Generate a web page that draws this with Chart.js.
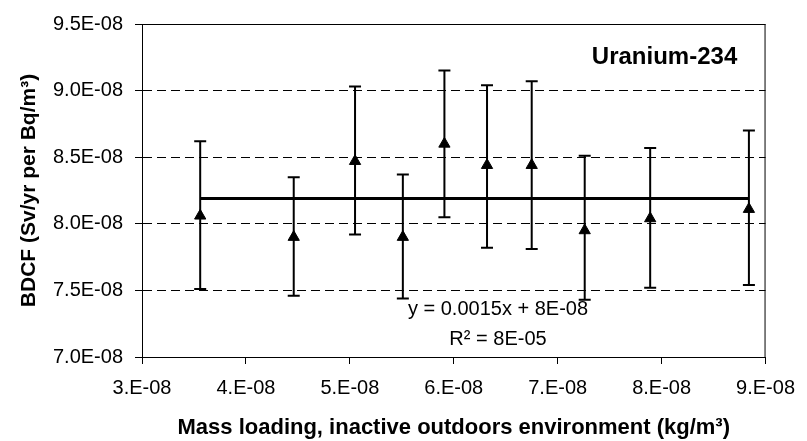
<!DOCTYPE html>
<html>
<head>
<meta charset="utf-8">
<script src="https://cdn.jsdelivr.net/npm/chart.js@4/dist/chart.umd.min.js"></script>
<style>
  html, body { margin: 0; padding: 0; background: #fff; }
  #wrap { width: 807px; height: 441px; }
</style>
</head>
<body>
<div id="wrap"><canvas id="bdcfChart" width="807" height="441"></canvas></div>
<script>
// Mass loading (kg/m3) and BDCF values
const massLoading = [3.56e-8, 4.46e-8, 5.05e-8, 5.51e-8, 5.91e-8, 6.32e-8, 6.75e-8, 7.26e-8, 7.89e-8, 8.84e-8];
const bdcf        = [8.06e-8, 7.90e-8, 8.47e-8, 7.90e-8, 8.60e-8, 8.44e-8, 8.44e-8, 7.95e-8, 8.04e-8, 8.11e-8];
const errHigh     = [8.62e-8, 8.35e-8, 9.03e-8, 8.37e-8, 9.15e-8, 9.04e-8, 9.07e-8, 8.51e-8, 8.57e-8, 8.70e-8];
const errLow      = [7.51e-8, 7.46e-8, 7.92e-8, 7.44e-8, 8.05e-8, 7.82e-8, 7.81e-8, 7.43e-8, 7.52e-8, 7.54e-8];

// linear trend line end points
const trendX = [3.56e-8, 8.84e-8];
const trendY = [8.19e-8, 8.19e-8];

const nuclide = 'Uranium-234';
const trendLabel = ['y = 0.0015x + 8E-08', 'R\u00b2 = 8E-05'];

const FONT = '"Liberation Sans", Arial, sans-serif';

function expLabel(v, digits) {
  const parts = v.toExponential(digits).split('e');
  const e = parseInt(parts[1], 10);
  let m = parts[0];
  if (digits === 0) m += '.';
  return m + 'E' + (e < 0 ? '-' : '+') + String(Math.abs(e)).padStart(2, '0');
}

// error bars drawn through the chart scales
const errorBars = {
  id: 'errorBars',
  beforeDatasetsDraw(chart) {
    const { ctx, scales: { x, y } } = chart;
    ctx.save();
    ctx.strokeStyle = '#000';
    ctx.lineWidth = 2;
    massLoading.forEach((m, i) => {
      const px = x.getPixelForValue(m);
      const top = y.getPixelForValue(errHigh[i]);
      const bot = y.getPixelForValue(errLow[i]);
      ctx.beginPath();
      ctx.moveTo(px, top); ctx.lineTo(px, bot);
      ctx.moveTo(px - 6, top); ctx.lineTo(px + 6, top);
      ctx.moveTo(px - 6, bot); ctx.lineTo(px + 6, bot);
      ctx.stroke();
    });
    ctx.restore();
  }
};

// plot frame plus the in-plot texts
const frameAndText = {
  id: 'frameAndText',
  afterDraw(chart) {
    const { ctx, chartArea: a } = chart;
    ctx.save();
    ctx.strokeStyle = '#000';
    ctx.lineWidth = 1;
    ctx.strokeRect(a.left + 0.5, a.top + 0.5, a.right - a.left - 1, a.bottom - a.top);
    ctx.fillStyle = '#000';
    ctx.textAlign = 'center';
    ctx.textBaseline = 'middle';
    ctx.font = 'bold 24px ' + FONT;
    ctx.fillText(nuclide, a.right - 101, a.top + 33);
    ctx.font = '20px ' + FONT;
    ctx.fillText(trendLabel[0], a.left + 356, a.top + 285);
    ctx.fillText(trendLabel[1], a.left + 356, a.top + 315);
    ctx.restore();
  }
};

new Chart(document.getElementById('bdcfChart'), {
  type: 'scatter',
  data: {
    datasets: [{
      label: 'BDCF',
      data: massLoading.map((m, i) => ({ x: m, y: bdcf[i] })),
      pointStyle: 'triangle',
      pointRadius: 6.5,
      backgroundColor: '#000',
      borderColor: '#000',
      borderWidth: 1
    }, {
      label: 'Trend',
      type: 'line',
      data: trendX.map((t, i) => ({ x: t, y: trendY[i] })),
      borderColor: '#000',
      borderWidth: 3,
      pointRadius: 0,
      fill: false
    }]
  },
  options: {
    responsive: false,
    animation: false,
    devicePixelRatio: 1,
    layout: { padding: { top: 22, right: 34, left: 0, bottom: 0 } },
    plugins: { legend: { display: false }, tooltip: { enabled: false } },
    scales: {
      x: {
        type: 'linear',
        min: 3e-8, max: 9e-8,
        afterFit: s => { s.height = 84; },
        ticks: {
          stepSize: 1e-8, autoSkip: false, maxRotation: 0,
          color: '#000', font: { family: FONT, size: 20 }, padding: 12,
          callback: v => expLabel(v, 0)
        },
        grid: { drawOnChartArea: false, drawTicks: true, tickLength: 7, color: '#000' },
        border: { display: true, color: '#000', width: 1 },
        title: {
          display: true,
          text: 'Mass loading, inactive outdoors environment (kg/m\u00b3)',
          color: '#000', font: { family: FONT, size: 22, weight: 'bold' },
          padding: { top: 0, bottom: 0 }
        }
      },
      y: {
        min: 7e-8, max: 9.5e-8,
        afterFit: s => { s.width = 142; },
        ticks: {
          stepSize: 5e-9,
          color: '#000', font: { family: FONT, size: 20 }, padding: 12,
          callback: v => expLabel(v, 1)
        },
        grid: {
          color: '#000', lineWidth: 1,
          tickLength: 7, tickBorderDash: [], tickColor: '#000'
        },
        border: { display: true, color: '#000', width: 1, dash: [9, 5] },
        title: {
          display: true,
          text: 'BDCF (Sv/yr per Bq/m\u00b3)',
          color: '#000', font: { family: FONT, size: 21, weight: 'bold' },
          padding: { top: 17, bottom: 0 }
        }
      }
    }
  },
  plugins: [errorBars, frameAndText]
});
</script>
</body>
</html>
